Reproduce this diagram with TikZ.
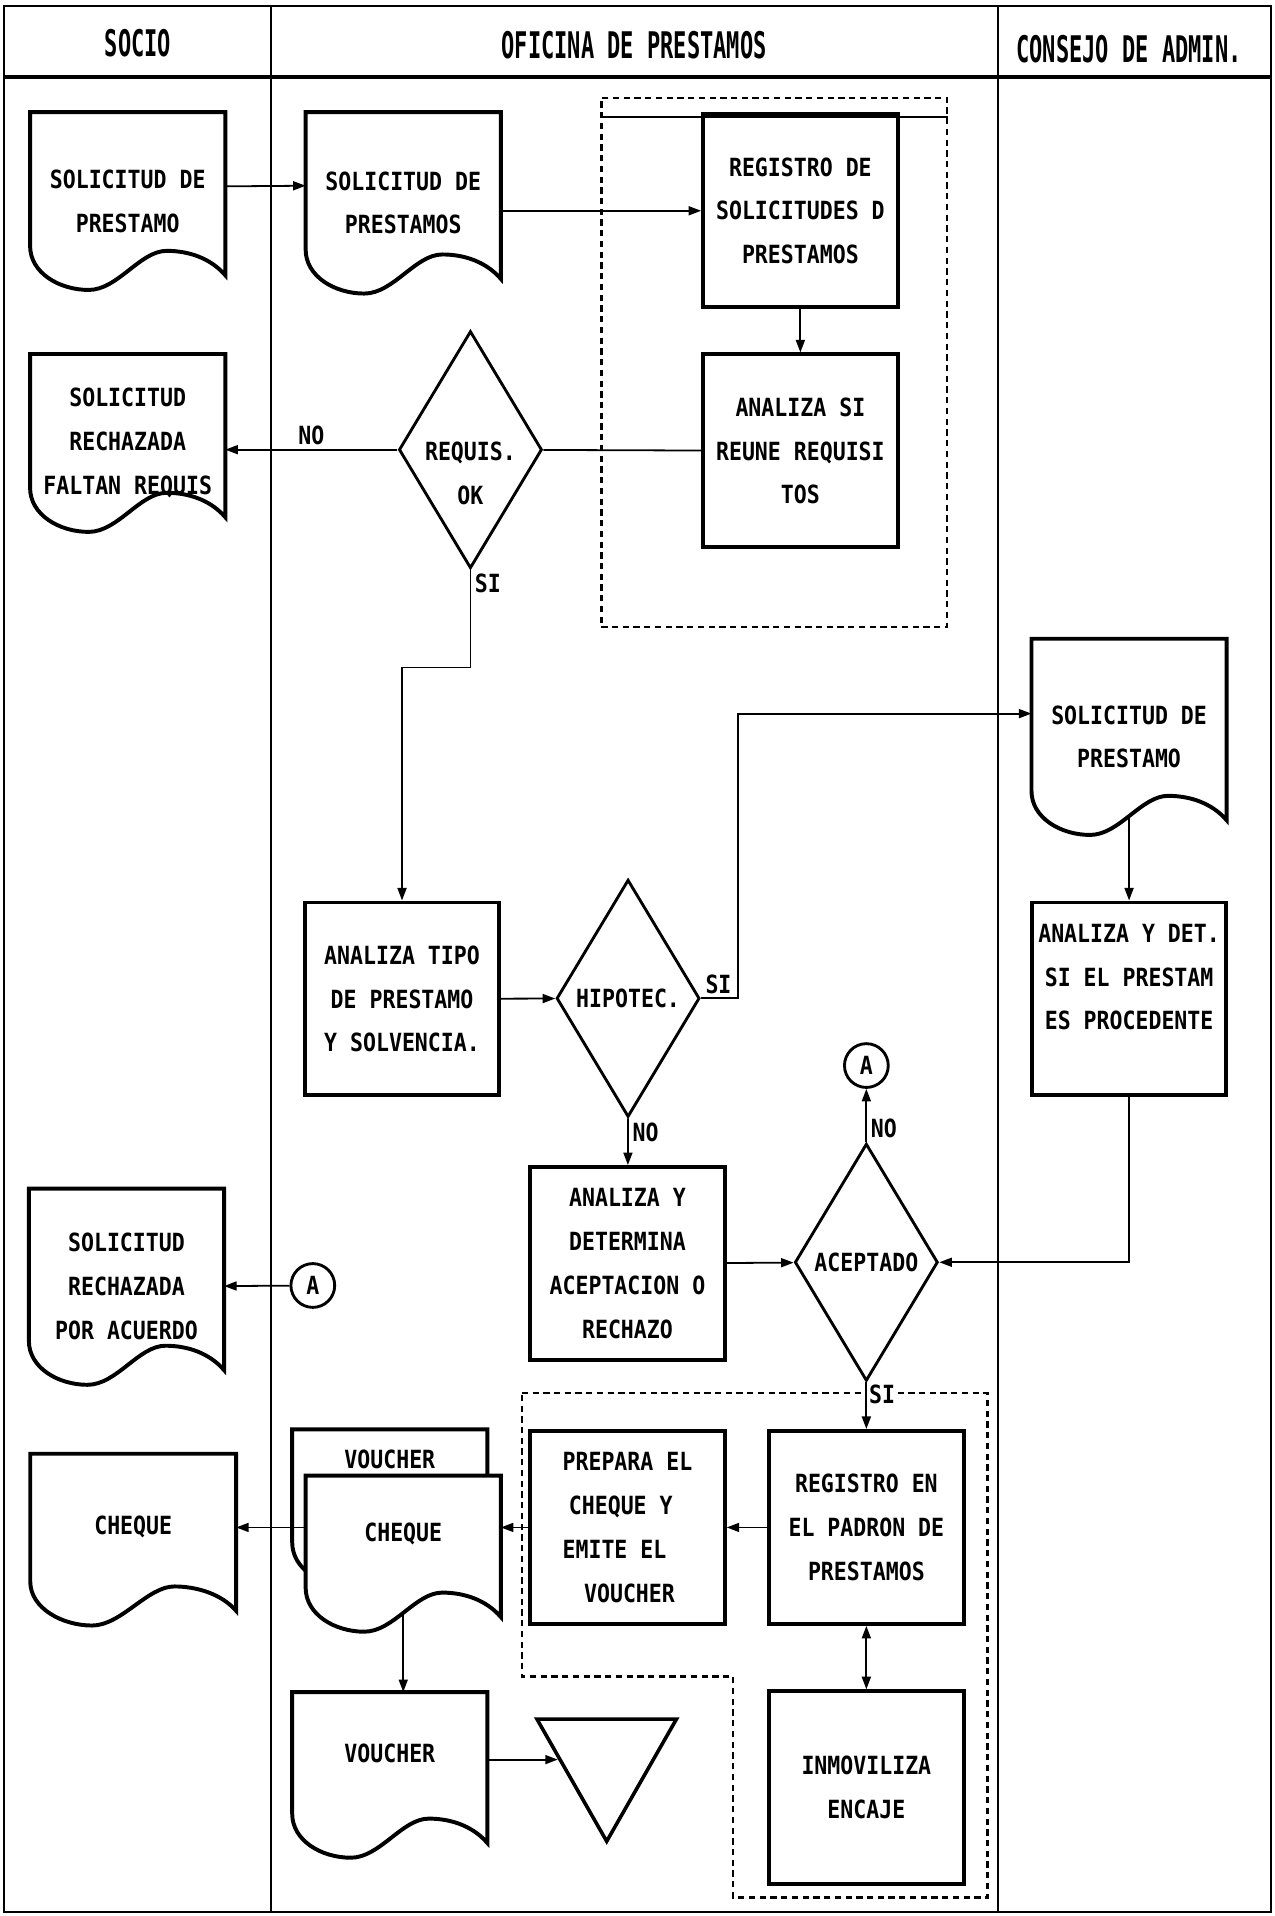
\documentclass[tikz,border=0pt]{standalone}
\usepackage{fontspec}
\usepackage{tikz}
\usetikzlibrary{
    arrows.meta,
    calc,
    positioning,
    shapes.geometric,
    backgrounds
}
\newfontfamily\chartfont{DejaVu Sans Mono}[FakeStretch=0.86]
\newfontfamily\headfont{DejaVu Sans Mono}[FakeStretch=0.6]

\begin{document}
\begin{tikzpicture}[x=0.024cm, y=-0.024cm,
        txt/.style={font={\chartfont\bfseries\fontsize{14}{24.5}\selectfont}},
        head/.style={font={\headfont\bfseries\fontsize{20.5}{22}\selectfont}},
        proc/.style={txt, draw, line width=2.2pt, minimum width=3.82cm,
            minimum height=3.79cm, align=center, inner sep=1pt},
        docu/.style={txt, minimum width=3.82cm, align=center, inner sep=1pt},
        docline/.style={line width=2.2pt, fill=white},
        decision/.style={txt, diamond, draw, line width=1.6pt, minimum width=2.81cm,
            minimum height=4.66cm, inner sep=0pt},
        dlabel/.style={txt, align=center},
        conn/.style={txt, circle, draw, line width=1.6pt, minimum size=0.86cm, inner sep=0pt},
        archive/.style={isosceles triangle, isosceles triangle stretches, draw,
            line width=2pt, minimum width=2.74cm, minimum height=2.4cm,
            rotate=-90, inner sep=0pt},
        group/.style={draw, dash pattern=on 3.5pt off 2.5pt, line width=1.4pt},
        lab/.style={txt, inner sep=2pt},
        arr/.style={-{Triangle[length=7pt,width=5pt]}, line width=1pt},
        arr2/.style={{Triangle[length=7pt,width=5pt]}-{Triangle[length=7pt,width=5pt]}, line width=1pt}
    ]
    \useasboundingbox (0,0) rectangle (1043,1568);

    \draw[line width=1.2pt] (3,5) rectangle (1040,1565);
    \draw[line width=2pt] (3,63) -- (1040,63);
    \draw[line width=1pt]
    (222,5) -- (222,1565)
    (817,5) -- (817,1565);

    \node[head] (hsocio) at (113,35) {SOCIO};
    \node[head] (hofic) at (519,37) {OFICINA DE PRESTAMOS};
    \node[head] (hcons) at (924,40) {CONSEJO DE ADMIN.};

    \node[docu, minimum height=3.48cm] (sol1) at (104.5,164.5) {SOLICITUD DE\\PRESTAMO};
    \node[docu, minimum height=3.55cm] (sol2) at (330,166) {SOLICITUD DE\\PRESTAMOS};
    \node[docu, minimum height=3.48cm] (rech1) at (104.5,362.5) {SOLICITUD\\RECHAZADA\\FALTAN REQUIS};
    \node[docu, minimum height=3.84cm] (sol4) at (924,603) {SOLICITUD DE\\PRESTAMO};
    \node[docu, minimum height=3.84cm] (rech2) at (103.5,1053) {SOLICITUD\\RECHAZADA\\POR ACUERDO};
    \node[docu, minimum width=4.03cm, minimum height=3.36cm] (chk) at (109,1260) {CHEQUE\\[-8pt]\mbox{}};
    \node[docu, minimum height=3.07cm] (vch) at (319,1234) {VOUCHER\\[5.4pt]\mbox{}\\ \mbox{}};
    \node[docu, minimum height=3.05cm] (chq) at (330,1271.5) {CHEQUE\\ \mbox{}};
    \node[docu, minimum height=3.24cm] (vou) at (319,1452.5) {VOUCHER\\ \mbox{}};

    \node[proc] (reg) at (655,172.5) {REGISTRO DE\\SOLICITUDES D\\PRESTAMOS};
    \node[proc] (ana) at (655,369) {ANALIZA SI\\REUNE REQUISI\\TOS};
    \node[proc] (tipo) at (329,817.5) {ANALIZA TIPO\\DE PRESTAMO\\Y SOLVENCIA.};
    \node[proc] (det) at (924,817.5) {ANALIZA Y DET.\\SI EL PRESTAM\\ES PROCEDENTE\\ \mbox{}};
    \node[proc] (anr) at (513.5,1034) {ANALIZA Y\\DETERMINA\\ACEPTACION O\\RECHAZO};
    \node[proc] (regp) at (709,1250) {REGISTRO EN\\EL PADRON DE\\PRESTAMOS};
    \node[proc, align=left] (prep) at (513.5,1250)
    {PREPARA EL\\\hspace*{3.5pt}CHEQUE Y\\EMITE EL\\\hspace*{12pt}VOUCHER};
    \node[proc] (inm) at (709,1463) {INMOVILIZA\\ENCAJE};

    \node[decision, label={[dlabel, yshift=-6pt]center:{\mbox{}\\REQUIS.\\OK}}] (req) at (385,368) {};
    \node[decision] (hip) at (514,817) {HIPOTEC.};
    \node[decision] (acep) at (709,1033) {ACEPTADO};

    \node[conn] (conA) at (709,872) {A};
    \node[conn] (conB) at (256,1052) {A};
    \node[archive] (arch) at (496.5,1440) {};

    \begin{pgfonlayer}{background}
        \foreach \d in {sol1,sol2,rech1,sol4,rech2,chk,vch,chq,vou} {
            \draw[docline] (\d.north west) -- (\d.north east) -- ($(\d.south east)+(0,-12)$)
            .. controls +(-12,-14) and +(18,0) .. ($(\d.south west)!0.7!(\d.south east)+(0,-32)$)
            .. controls +(-22,0) and +(24,0) .. ($(\d.south west)!0.3!(\d.south east)$)
            .. controls +(-24,0) and +(0,22) .. ($(\d.south west)+(0,-36)$) -- cycle;
        }
    \end{pgfonlayer}

    \node[group, minimum width=6.79cm, minimum height=10.39cm] (grp1) at (633.5,296.5) {};
    \draw[line width=1pt] ($(grp1.north west)+(0,17)$) -- ($(grp1.north east)+(0,17)$);
    \draw[group] (427,1140) -- (808,1140) -- (808,1553) -- (600,1553) -- (600,1372) -- (427,1372) -- cycle;

    \draw[arr] ($(sol1.east)+(0,-12)$) -- ($(sol2.west)+(0,-14)$);
    \draw[arr] (sol2.east |- reg.west) -- (reg.west);
    \draw[arr] (reg) -- (ana);
    \draw[line width=1pt] (ana) -- (req);
    \draw[arr] (req.west) -- node[lab, above] {NO} (req.west -| rech1.east);
    \draw[arr] (req.south) node[lab, below right] {SI} -- ++(0,80) -| (tipo);
    \draw[arr] (tipo) -- (hip);
    \draw[arr] (hip.east) node[lab, above right] {SI} -- ++(30,0) |- ($(sol4.west)+(0,-19)$);
    \draw[arr] ($(sol4.south)+(0,-16)$) -- (det);
    \draw[arr] (det.south) |- (acep.east);
    \draw[arr] (hip.south) node[lab, below right] {NO} -- (anr);
    \draw[arr] (anr) -- (acep);
    \draw[arr] (acep.north) node[lab, above right] {NO} -- (conA);
    \draw[arr] (conB) -- (rech2);
    \draw[arr] (acep.south) node[lab, below right, fill=white, inner sep=1pt] {SI} -- (regp);
    \draw[arr] (regp) -- (prep);
    \draw[arr2] (regp) -- (inm);
    \draw[arr] (prep.west) -- (prep.west -| chq.east);
    \draw[arr] (prep.west -| chq.west) -- (prep.west -| chk.east);
    \draw[arr] ($(chq.south)+(0,-16)$) -- (vou.north -| chq.south);
    \draw[arr] ($(vou.east)+(0,-12.5)$) -- (arch);
\end{tikzpicture}
\end{document}
